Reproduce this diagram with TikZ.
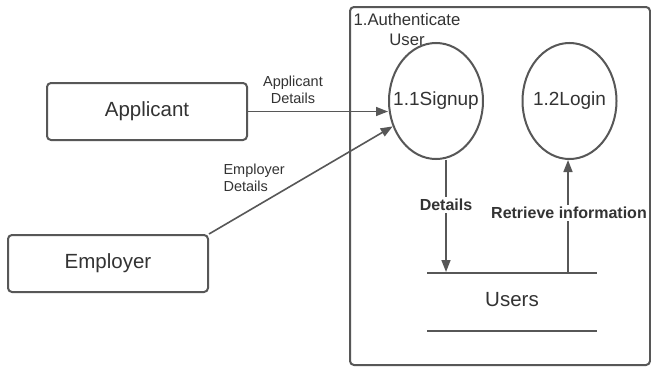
\documentclass[tikz,border=0pt]{standalone}
\usepackage{fontspec}
\setmainfont{Liberation Sans}
\usetikzlibrary{arrows.meta,shapes.geometric}
\definecolor{lineg}{HTML}{575757}
\definecolor{textg}{HTML}{333333}
\tikzset{
  entity/.style={draw=lineg, line width=2pt, rounded corners=4pt,
    minimum width=200pt, minimum height=57pt, inner sep=0pt,
    font=\fontsize{20.5}{22}\selectfont, text=textg},
  process/.style={ellipse, draw=lineg, line width=2pt,
    minimum width=94pt, minimum height=116pt, inner sep=0pt,
    label={[text=textg, font=\fontsize{19}{21}\selectfont]center:#1}},
  flow/.style={draw=lineg, line width=1.6pt, -{Triangle[length=12pt,width=9pt]}},
  flowlabel/.style={font=\fontsize{14.5}{17}\selectfont, text=textg, align=center},
  boldlabel/.style={font=\bfseries\fontsize{16}{18}\selectfont, text=textg,
    fill=white, inner sep=2pt},
  storeline/.style={draw=lineg, line width=2pt}
}
\begin{document}
\begin{tikzpicture}[x=1pt,y=-1pt]
\useasboundingbox (0,0) rectangle (651,367);
\fill[white] (0,0) rectangle (651,367);

% process boundary
\draw[lineg, line width=2pt, rounded corners=4pt] (350,7) rectangle (650,365);
\node[text=textg, font=\fontsize{16.7}{20}\selectfont, align=center] (title) at (407,30) {1.Authenticate\\User};

% external entities
\node[entity] (applicant) at (147,111.5) {Applicant};
\node[entity] (employer) at (108,263.5) {Employer};

% processes (label kept outside the shape so the ellipse keeps its size)
\node[process=1.1Signup] (signup) at (436,101) {};
\node[process=1.2Login] (login) at (569.5,101) {};

% data store
\coordinate (storeL) at (427,273);
\coordinate (storeR) at (597,273);
\coordinate (storeBL) at (427,331);
\coordinate (storeBR) at (597,331);
\draw[storeline] (storeL) -- (storeR);
\draw[storeline] (storeBL) -- (storeBR);
\node[text=textg, font=\fontsize{20.5}{22}\selectfont] (users) at (512,300) {Users};
\coordinate (storeIn) at (446,272);
\coordinate (storeOut) at (568,273);

% flows
\draw[flow] (applicant.east) -- (applicant.east -| signup.west);
\node[flowlabel] (applbl) at (293,90) {Applicant\\Details};

\draw[flow] (employer.north east) -- (signup);
\node[flowlabel, align=left, anchor=west] (emplbl) at (220,178) {Employer\\Details};

\draw[flow] (signup.south -| storeIn) -- (storeIn);
\node[boldlabel] (detlbl) at (446,205) {Details};

\draw[flow] (storeOut) -- (storeOut |- login.south);
\node[boldlabel] (retlbl) at (569,213) {Retrieve information};
\end{tikzpicture}
\end{document}
